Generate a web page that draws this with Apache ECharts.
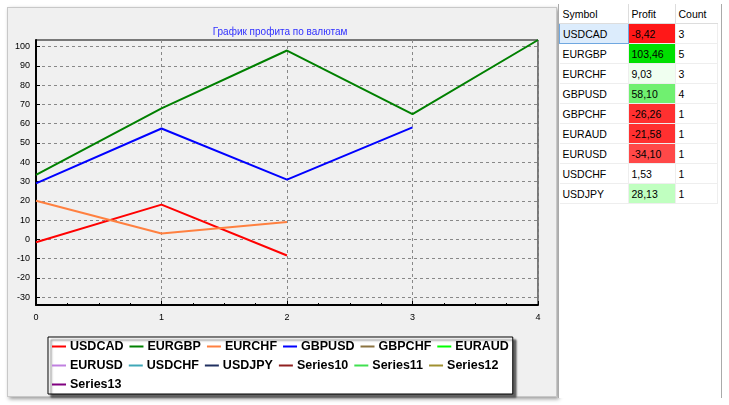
<!DOCTYPE html>
<html><head><meta charset="utf-8">
<script src="https://cdn.jsdelivr.net/npm/echarts@6/dist/echarts.min.js"></script>
<style>
body{margin:0;background:#fff;font-family:"Liberation Sans",Arial,sans-serif;}
#wrap{position:relative;width:729px;height:405px;}
#panel{position:absolute;left:7px;top:7px;width:548px;height:388px;background:#f0f0f0;border:1px solid #c8c8c8;box-shadow:2px 2px 4px #999;}
#chart{position:absolute;left:0;top:0;width:729px;height:405px;}
#tbl{position:absolute;left:558px;top:4px;width:162px;height:394px;background:#fff;border-left:1px solid #aaa;border-right:1px solid #aaa;}
table{border-collapse:collapse;font-size:10.5px;font-family:"Liberation Sans",Arial,sans-serif;}
td{height:19px;padding:0 3px;border-bottom:1px solid #eee;border-right:1px solid #eee;}
th{height:19px;font-weight:normal;text-align:left;padding:0 3px;border-right:1px solid #ddd;border-bottom:1px solid #ddd;}
</style></head><body>
<div id="wrap"><div id="panel"></div><div id="chart"></div><div id="tbl"></div></div>
<script>
const xCats=[0,1,2,3,4];
const names=["USDCAD","EURGBP","EURCHF","GBPUSD","GBPCHF","EURAUD","EURUSD","USDCHF","USDJPY","Series10","Series11","Series12","Series13"];
const colors=["#ff0000","#008000","#ff8040","#0000ff","#8b7340","#00ff00","#c080e0","#40a8b8","#203060","#902020","#40e050","#a09030","#800080"];
const usdcad=[-1.5,18,-8.42];
const eurgbp=[33.5,68,98,65,103.46];
const eurchf=[20,3,9.03];
const gbpusd=[29,57.5,31,58.1];
const yTicks=[-30,-20,-10,0,10,20,30,40,50,60,70,80,90,100];
const tSymbols=["USDCAD","EURGBP","EURCHF","GBPUSD","GBPCHF","EURAUD","EURUSD","USDCHF","USDJPY"];
const tProfit=["-8,42","103,46","9,03","58,10","-26,26","-21,58","-34,10","1,53","28,13"];
const tCount=[3,5,3,4,1,1,1,1,1];
const tColor=["#ff1818","#00e000","#f0fff0","#70f070","#ff3030","#ff3030","#ff4848","#ffffff","#c0ffc0"];

const dataMap={USDCAD:usdcad,EURGBP:eurgbp,EURCHF:eurchf,GBPUSD:gbpusd};
const series=names.map((n,i)=>({name:n,type:'line',data:(dataMap[n]||[]).map((v,j)=>[xCats[j],v]),symbol:'none',
  lineStyle:{width:2,color:colors[i],type:n==='Series13'?'dashed':'solid'},itemStyle:{color:colors[i]},animation:false}));
const ch=echarts.init(document.getElementById('chart'));
ch.setOption({
 animation:false,
 title:{text:'График профита по валютам',left:275,top:22,textAlign:'center',textStyle:{fontSize:10,fontWeight:'normal',color:'#3030ff',fontFamily:'Liberation Sans,Arial'}},
 grid:{left:36,right:191,top:40,bottom:100,show:true,borderColor:'#000',borderWidth:1},
 xAxis:{type:'value',min:0,max:4,interval:1,
  axisLine:{onZero:false,lineStyle:{color:'#000',width:2}},axisTick:{inside:true,length:4,lineStyle:{color:'#000'}},
  minorTick:{show:true,splitNumber:4,length:2,lineStyle:{color:'#000'}},
  axisLabel:{color:'#000',fontSize:9,margin:8},
  splitLine:{show:true,lineStyle:{color:'#888',type:[3,3]}}},
 yAxis:{type:'value',min:-34.1,max:103.46,
  axisLine:{show:true,onZero:false,lineStyle:{color:'#000',width:2}},
  axisTick:{show:true,inside:true,length:4,customValues:yTicks,lineStyle:{color:'#000'}},
  axisLabel:{color:'#000',fontSize:9,customValues:yTicks,margin:6},
  splitLine:{show:true,lineStyle:{color:'#888',type:[3,3]}}},
 legend:{left:48,top:337,width:470,itemGap:6,itemWidth:14,itemHeight:2,
  backgroundColor:'#fff',borderColor:'#000',borderWidth:1,padding:[3,4,3,4],
  shadowColor:'rgba(0,0,0,0.6)',shadowBlur:2,shadowOffsetX:3,shadowOffsetY:3,
  textStyle:{fontSize:12.5,fontWeight:'bold',color:'#000',fontFamily:'Liberation Sans',padding:[0,0,0,-1]},
  data:names.map((n,i)=>({name:n,icon:'rect',itemStyle:{color:colors[i]}}))},
 series:series
});
let h='<table><tr><th style="width:62px">Symbol</th><th style="width:40px">Profit</th><th style="width:36px;border-right:none">Count</th></tr>';
tSymbols.forEach((s,i)=>{
 const sel=i===0?'background:#dcecfc;border:1px solid #70a8e0;':'';
 h+=`<tr><td style="${sel}">${s}</td><td style="background:${tColor[i]}">${tProfit[i]}</td><td>${tCount[i]}</td></tr>`;
});
h+='</table>';
document.getElementById('tbl').innerHTML=h;
</script></body></html>
